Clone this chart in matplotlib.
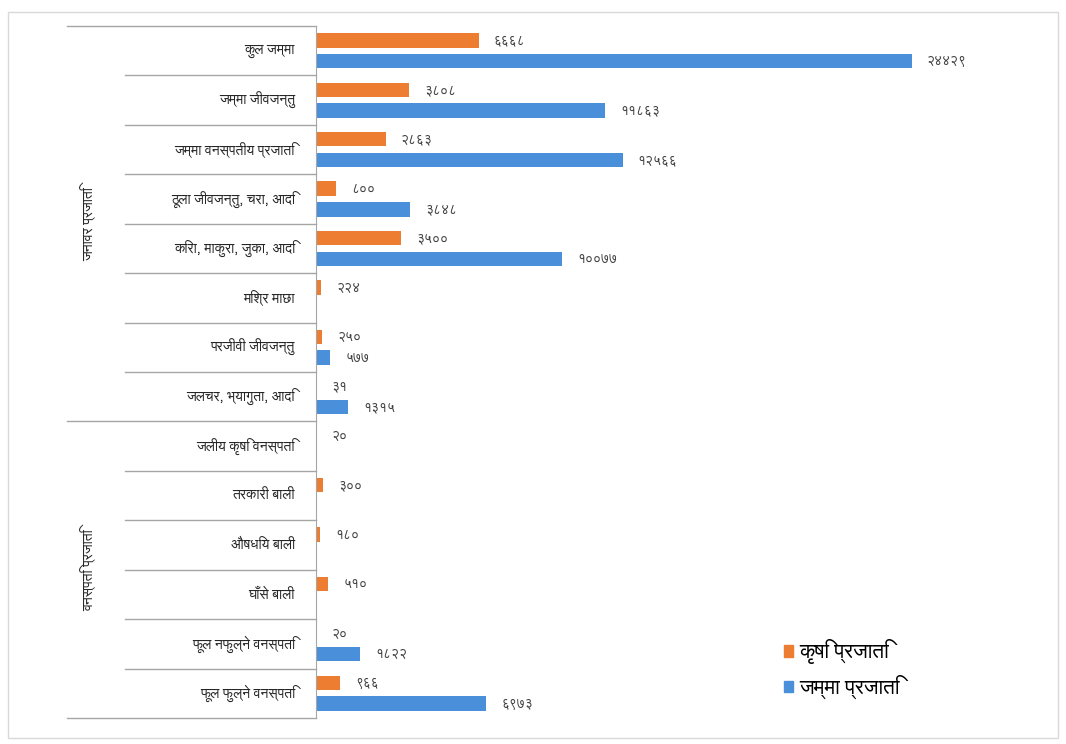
import numpy as np
import matplotlib
matplotlib.use('Agg')
import matplotlib.pyplot as plt
from matplotlib import font_manager
from matplotlib.patches import Rectangle, Patch

# pick any installed font that carries Devanagari glyphs
deva = None
for f in font_manager.fontManager.ttflist:
    if 'Devanagari' in f.name or f.name in ('Lohit Devanagari', 'Mukti', 'FreeSans', 'FreeSerif', 'Kalimati', 'Gargi', 'Mangal', 'Nirmala UI'):
        deva = f.name
        break
plt.rcParams['font.family'] = ([deva] if deva else []) + ['Noto Sans', 'DejaVu Sans']

categories = ['कुल जम्मा', 'जम्मा जीवजन्तु', 'जम्मा वनस्पतीय प्रजाति', 'ठूला जीवजन्तु, चरा, आदि',
              'किरा, माकुरा, जुका, आदि', 'मिश्र माछा', 'परजीवी जीवजन्तु', 'जलचर, भ्यागुता, आदि',
              'जलीय कृषि वनस्पति', 'तरकारी बाली', 'औषधिय बाली', 'घाँसे बाली',
              'फूल नफुल्ने वनस्पति', 'फूल फुल्ने वनस्पति']
groups = ['जनावर प्रजाति', 'वनस्पति प्रजाति']
group_sizes = [8, 6]
agri = [6668, 3808, 2863, 800, 3500, 224, 250, 31, 20, 300, 180, 510, 20, 966]
total = [24429, 11863, 12566, 3848, 10077, None, 577, 1315, None, None, None, None, 1822, 6973]
series_names = ['कृषि प्रजाति', 'जम्मा प्रजाति']

ORANGE = '#ED7D31'
BLUE = '#4A8FDA'

def dev(n):
    return str(n).translate(str.maketrans('0123456789', '०१२३४५६७८९'))

fig = plt.figure(figsize=(10.66, 7.44), dpi=100)
W, H = 1066, 744
ax = fig.add_axes([316 / W, 26 / H, 683 / W, 692 / H])

n = len(categories)
y = np.arange(n)
bh = 0.29
off = 0.21
tv = [v if v is not None else 0 for v in total]
ax.barh(y - off, agri, height=bh, color=ORANGE)
ax.barh(y + off, tv, height=bh, color=BLUE)

for i in range(n):
    ax.annotate(dev(agri[i]), (agri[i], y[i] - off), xytext=(11, 0), textcoords='offset points',
                va='center', ha='left', fontsize=10, color='#404040')
    if total[i] is not None:
        ax.annotate(dev(total[i]), (total[i], y[i] + off), xytext=(11, 0), textcoords='offset points',
                    va='center', ha='left', fontsize=10, color='#404040')

ax.set_xlim(0, 28000)
ax.set_ylim(n - 0.5, -0.5)
ax.set_xticks([])
ax.set_yticks([])
for s in ['top', 'right', 'bottom']:
    ax.spines[s].set_visible(False)
ax.spines['left'].set_color('#A6A6A6')

# category labels and separators on the left
lx = (316 - 295) / 683
for i, c in enumerate(categories):
    ax.text(-lx, y[i], c, transform=ax.get_yaxis_transform(), ha='right', va='center', fontsize=10, color='#262626')

bounds = np.cumsum([0] + group_sizes)
for b in range(n + 1):
    x0 = -(316 - 67) / 683 if b in bounds else -(316 - 125) / 683
    ax.plot([x0, 0], [b - 0.5, b - 0.5], transform=ax.get_yaxis_transform(), color='#A6A6A6',
            lw=1, clip_on=False)

for g, s0, s1 in zip(groups, bounds[:-1], bounds[1:]):
    ax.text(-(316 - 88) / 683, (s0 + s1 - 1) / 2, g, transform=ax.get_yaxis_transform(),
            rotation=90, ha='center', va='center', fontsize=10, color='#262626')

ax.legend(handles=[Patch(color=ORANGE), Patch(color=BLUE)], labels=series_names,
          loc='lower left', bbox_to_anchor=(765 / W, 26 / H), bbox_transform=fig.transFigure,
          frameon=False, fontsize=15, handlelength=0.45, handleheight=0.45, handletextpad=0.3,
          labelspacing=0.5)

fig.patches.append(Rectangle((8 / W, 6 / H), 1050 / W, 726 / H, transform=fig.transFigure,
                             fill=False, ec='#D9D9D9', lw=1))

fig.savefig('out.png', dpi=100)
